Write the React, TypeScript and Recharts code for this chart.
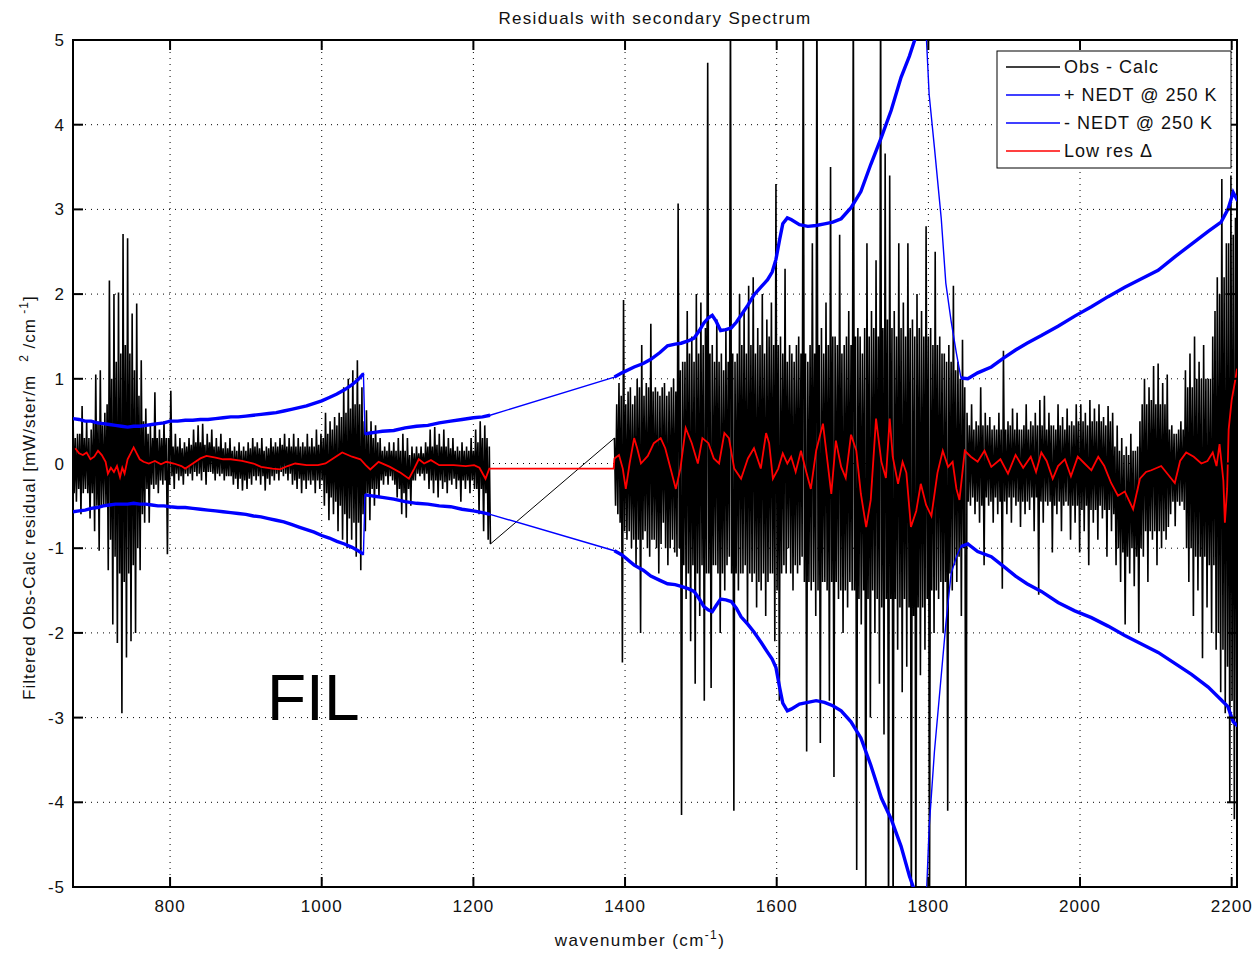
import React from 'react';
import { LineChart, Line, XAxis, YAxis, CartesianGrid, ReferenceArea } from 'recharts';

const W = 1254;
const H = 954;
const PLOT = { left: 73, top: 40, right: 1237, bottom: 887 };
const FONT = '"Liberation Sans", Arial, Helvetica, sans-serif';

const X_DOMAIN: [number, number] = [672, 2207];
const X_TICKS = [800, 1000, 1200, 1400, 1600, 1800, 2000, 2200];
const Y_TICKS = [-5, -4, -3, -2, -1, 0, 1, 2, 3, 4, 5];

// Obs - Calc residual, one value every 1.5 cm-1 (peak / trough pairs)
const OBS_STEP = 1.5;
const OBS_A_START = 672; // 672 .. 1222.5
const OBS_A = [
  0.62, -0.35, 0.3, -0.45, 0.35, -0.3, 0.35, -0.6, 0.68, -0.35, 0.3, -0.3, 0.5, -0.35, 0.3, -0.65, 0.4, -0.35,
  0.5, -0.8, 1.05, -0.5, 0.5, -1.03, 1.1, -0.5, 0.45, -0.5, 0.6, -0.5, 0.7, -1.26, 2.16, -0.9, 1.0, -1.9,
  2.0, -1.1, 1.2, -2.12, 2.02, -1.3, 1.3, -2.95, 2.71, -1.4, 1.4, -2.29, 2.66, -1.3, 1.3, -2.1, 1.77, -1.2,
  1.1, -2.0, 1.89, -1.0, 0.8, -1.26, 1.22, -0.6, 0.5, -0.7,
  0.65, -0.3, 0.35, -0.7, 0.45, -0.25, 0.3, -0.3, 0.84, -0.25, 0.3, -0.35, 0.4, -0.2, 0.3, -0.25, 0.5, -0.2,
  0.3, -1.07, 0.3, -0.25,
  0.86, -0.15, 0.2, -0.3, 0.35, -0.12, 0.2, -0.2, 0.3, -0.15, 0.18, -0.25, 0.25, -0.12, 0.2, -0.15, 0.3, -0.12, 0.22, -0.2,
  0.4, -0.1, 0.25, -0.15, 0.45, -0.12, 0.25, -0.2, 0.47, -0.1, 0.22, -0.25, 0.35, -0.1, 0.25, -0.1, 0.4, -0.12, 0.2, -0.2,
  0.3, -0.12, 0.2, -0.15, 0.35, -0.12, 0.18, -0.2, 0.25, -0.15, 0.18, -0.15, 0.3, -0.15, 0.15, -0.25, 0.2, -0.18, 0.15, -0.3,
  0.25, -0.18, 0.15, -0.32, 0.2, -0.2, 0.15, -0.3, 0.25, -0.18, 0.18, -0.25, 0.3, -0.15, 0.2, -0.2, 0.25, -0.15, 0.18, -0.25,
  0.3, -0.15, 0.15, -0.32, 0.2, -0.18, 0.18, -0.25, 0.3, -0.15, 0.2, -0.2, 0.25, -0.12, 0.2, -0.2, 0.3, -0.1, 0.22, -0.15,
  0.35, -0.12, 0.2, -0.2, 0.3, -0.12, 0.2, -0.25,
  0.35, -0.2, 0.2, -0.3, 0.3, -0.18, 0.2, -0.35, 0.25, -0.2, 0.2, -0.3, 0.35, -0.2, 0.2, -0.25, 0.3, -0.2, 0.2, -0.35,
  0.4, -0.2, 0.22, -0.3, 0.35, -0.2,
  0.3, -0.5, 0.6, -0.35, 0.35, -0.67, 0.5, -0.4, 0.4, -0.6, 0.55, -0.45, 0.45, -0.8,
  0.6, -0.5, 0.55, -0.9, 0.9, -0.6, 0.6, -1.0, 1.0, -0.65, 0.65, -0.9, 1.1, -0.7, 0.7, -1.1, 1.22, -0.7, 0.7, -1.26,
  0.9, -0.6, 0.5, -0.8,
  0.63, -0.35, 0.35, -0.67, 0.5, -0.3, 0.3, -0.5, 0.45, -0.3, 0.25, -0.4, 0.3, -0.2,
  0.15, -0.25, 0.2, -0.15, 0.15, -0.25, 0.25, -0.15, 0.15, -0.2,
  0.25, -0.25, 0.15, -0.4, 0.3, -0.3, 0.15, -0.6, 0.35, -0.35, 0.15, -0.64, 0.3, -0.3, 0.1, -0.5, 0.2, -0.2,
  0.12, -0.2, 0.2, -0.12, 0.12, -0.15, 0.2, -0.12, 0.12, -0.2, 0.25, -0.12,
  0.2, -0.3, 0.4, -0.2, 0.2, -0.35, 0.43, -0.2, 0.22, -0.4, 0.35, -0.2, 0.2, -0.3, 0.4, -0.22, 0.2, -0.35, 0.3, -0.2,
  0.18, -0.25, 0.3, -0.18,
  0.15, -0.3, 0.2, -0.2, 0.15, -0.45, 0.25, -0.2, 0.15, -0.3, 0.2, -0.2, 0.15, -0.35, 0.3, -0.2, 0.15, -0.3,
  0.4, -0.3, 0.25, -0.6, 0.5, -0.3, 0.3, -0.8, 0.45, -0.35, 0.3, -0.9, 0.2, -0.95,
];
const OBS_B_START = 1386; // 1386 .. 2209.5
const OBS_B = [
  0.3, -0.5, 0.7, -0.6, 0.95, -0.7, 0.8, -2.35, 1.93, -0.8, 0.7, -0.9,
  0.85, -0.8, 0.9, -1.0, 0.7, -0.9,
  0.8, -1.2, 1.0, -0.9, 0.9, -2.0, 1.4, -0.9, 0.8, -0.8, 0.95, -1.0, 0.9, -1.1, 1.65, -0.9, 0.85, -0.9,
  0.9, -1.0, 0.85, -1.3, 0.8, -0.95, 0.9, -0.7, 0.95, -1.0, 0.8, -1.2, 0.85, -1.0, 0.9, -0.9, 1.0, -1.05, 0.85, -1.1,
  3.07, -1.0, 1.1, -4.15, 1.2, -1.2,
  1.2, -1.6, 1.8, -1.3, 1.3, -2.1, 1.5, -1.2, 1.2, -2.6, 2.0, -1.3, 1.3, -1.8, 1.9, -1.2, 1.4, -2.8, 1.6, -1.3,
  4.73, -1.3, 1.3, -2.65, 1.4, -1.2, 1.2, -1.2, 1.7, -1.3, 1.2, -2.0, 1.3, -1.3, 1.1, -1.5, 1.6, -1.2, 1.2, -1.1,
  5.6, -1.3, 1.3, -4.1, 1.2, -1.3,
  1.3, -1.5, 2.0, -1.3, 1.4, -1.3, 1.8, -1.2, 1.3, -1.9, 2.1, -1.3, 1.4, -1.4, 2.2, -1.3, 1.3, -1.7,
  1.6, -1.4, 1.4, -1.5, 2.0, -1.3, 1.3, -1.8, 1.7, -1.4, 1.5, -1.3, 1.9, -1.3, 1.4, -2.1, 3.3, -1.5,
  1.4, -2.8, 1.5, -1.3, 1.3, -1.2, 2.3, -1.3, 1.2, -1.0, 1.4, -1.3, 1.3, -1.5, 1.2, -1.2, 1.4, -1.3, 1.5, -1.2, 1.3, -1.1,
  5.8, -1.4, 1.3, -3.4, 1.2, -1.4, 1.4, -1.5, 2.6, -1.4, 1.3, -1.8, 5.8, -1.5, 1.4, -3.3, 1.6, -1.4, 1.3, -1.4, 1.9, -1.5,
  1.4, -2.8, 3.5, -1.4, 1.5, -3.7, 1.5, -1.4, 1.4, -1.6, 2.7, -1.5, 1.3, -2.0, 1.4, -1.5, 1.5, -1.7, 1.8, -1.4, 1.4, -1.5,
  5.8, -1.5, 1.5, -4.8, 1.6, -1.6, 1.5, -1.9, 1.3, -1.5, 1.6, -5.6, 2.6, -1.6, 1.5, -3.0, 1.8, -1.5, 1.6, -2.0,
  2.4, -1.6, 1.5, -2.6, 5.8, -1.7, 1.6, -3.2, 3.66, -1.6, 1.7, -5.6, 3.4, -1.6,
  1.6, -5.6, 1.8, -1.6, 1.5, -2.2, 2.6, -1.7, 1.6, -2.7, 1.9, -1.6, 1.5, -2.4, 2.6, -1.7, 1.6, -5.6, 1.7, -1.8,
  1.5, -5.6, 2.0, -1.7, 1.6, -2.5, 1.8, -1.7, 1.5, -2.2, 2.8, -1.6, 1.5, -5.6,
  1.6, -1.5, 1.4, -2.0, 2.5, -1.5, 1.4, -1.6, 1.5, -1.4, 1.3, -2.0, 1.3, -1.4, 1.2, -4.1, 1.4, -1.3, 1.2, -1.5,
  2.1, -1.2, 1.1, -1.4, 1.2, -1.1, 1.0, -1.8, 1.46, -1.0, 0.9, -5.6,
  0.6, -0.45, 0.45, -0.5, 0.7, -0.4, 0.4, -0.6, 0.5, -0.45, 0.45, -0.7, 0.9, -0.5, 0.45, -1.2, 0.6, -0.4, 0.45, -0.5,
  0.55, -0.45, 0.4, -0.7, 0.45, -0.4, 0.4, -0.6, 0.6, -0.45, 0.4, -1.48, 1.33, -0.45, 0.4, -0.6, 0.5, -0.4, 0.45, -0.7,
  0.65, -0.4, 0.4, -0.5, 0.6, -0.45, 0.4, -0.75, 0.4, -0.45, 0.45, -0.6, 0.7, -0.45, 0.4, -0.55, 0.5, -0.4, 0.45, -0.8,
  0.6, -0.4, 0.45, -1.55, 0.75, -0.45,
  0.45, -0.7, 0.8, -0.45, 0.4, -0.5, 0.6, -0.45, 0.45, -1.05, 0.45, -0.5, 0.4, -0.6, 0.7, -0.45, 0.45, -0.8, 0.55, -0.5,
  0.4, -0.45, 0.65, -0.5, 0.45, -0.9, 0.5, -0.5, 0.45, -0.7,
  0.7, -0.5, 0.5, -1.05, 0.7, -0.55, 0.5, -0.8, 0.6, -0.5, 0.45, -1.2, 0.75, -0.55, 0.5, -0.7, 0.65, -0.55, 0.5, -0.9,
  0.7, -0.5, 0.5, -0.65, 0.55, -0.55, 0.45, -1.1, 0.68, -0.55, 0.5, -0.8, 0.6, -0.6,
  0.2, -1.2, 0.45, -1.0, 0.15, -1.4, 0.3, -1.05, 0.1, -1.9, 0.2, -1.1, 0.1, -1.3, 0.35, -1.0, 0.15, -1.45, 0.15, -1.1,
  0.2, -2.0, 0.5, -1.0,
  0.7, -1.1, 1.0, -0.8, 0.7, -1.4, 0.9, -0.8, 0.75, -0.9, 1.15, -0.8, 0.7, -1.2, 1.18, -0.8, 0.7, -1.0, 0.95, -0.8,
  0.7, -0.9, 1.05, -0.75,
  0.4, -0.6, 0.45, -0.45, 0.35, -0.74, 0.35, -0.45, 0.4, -0.5, 0.5, -0.45, 0.4, -0.55,
  1.1, -1.0, 0.9, -1.4, 1.3, -1.0, 0.9, -1.8, 1.5, -1.1, 1.0, -1.5, 1.2, -1.1, 1.0, -2.3, 1.4, -1.1, 1.0, -1.7,
  1.0, -1.2, 1.0, -2.0, 1.5, -1.2,
  1.8, -2.2, 2.2, -2.0, 2.0, -2.7, 3.36, -2.2, 2.2, -2.95, 2.6, -2.4,
  2.6, -4.0, 3.4, -2.8, 2.7, -4.2, 2.9, -3.0, 3.0, -3.9,
];

// [wavenumber, +NEDT, -NEDT]
const NEDT: [number, number, number][] = [
  [672, 0.53, -0.57], [680, 0.52, -0.56], [688, 0.5, -0.55], [696, 0.5, -0.53], [704, 0.48, -0.52],
  [712, 0.47, -0.5], [720, 0.46, -0.49], [728, 0.45, -0.48], [736, 0.44, -0.48], [744, 0.43, -0.48],
  [752, 0.44, -0.47], [760, 0.44, -0.48], [768, 0.45, -0.48], [776, 0.46, -0.49], [784, 0.47, -0.5],
  [792, 0.48, -0.5], [800, 0.5, -0.51], [810, 0.5, -0.52], [820, 0.51, -0.52], [830, 0.51, -0.53],
  [840, 0.52, -0.54], [850, 0.52, -0.55], [860, 0.53, -0.56], [870, 0.54, -0.57], [880, 0.55, -0.58],
  [890, 0.55, -0.59], [900, 0.56, -0.6], [910, 0.57, -0.62], [920, 0.58, -0.63], [930, 0.59, -0.65],
  [940, 0.6, -0.67], [950, 0.62, -0.69], [960, 0.64, -0.72], [970, 0.66, -0.75], [980, 0.68, -0.78],
  [990, 0.71, -0.81], [1000, 0.74, -0.85], [1010, 0.78, -0.88], [1020, 0.82, -0.92], [1030, 0.87, -0.95],
  [1040, 0.93, -0.99], [1048, 0.99, -1.03], [1055, 1.06, -1.07], [1057, 0.35, -0.37], [1064, 0.36, -0.38],
  [1072, 0.37, -0.39], [1080, 0.38, -0.4], [1095, 0.39, -0.42], [1110, 0.42, -0.45], [1125, 0.44, -0.47],
  [1140, 0.45, -0.48], [1155, 0.48, -0.5], [1170, 0.5, -0.51], [1185, 0.52, -0.54], [1200, 0.54, -0.56],
  [1212, 0.55, -0.58], [1222, 0.57, -0.6], [1386, 1.02, -1.03], [1396, 1.07, -1.08], [1412, 1.14, -1.2],
  [1424, 1.18, -1.26], [1434, 1.23, -1.33], [1446, 1.31, -1.38], [1456, 1.39, -1.42], [1466, 1.41, -1.43],
  [1474, 1.42, -1.45], [1484, 1.45, -1.48], [1491, 1.48, -1.51], [1498, 1.57, -1.6], [1504, 1.66, -1.69],
  [1510, 1.72, -1.73], [1515, 1.75, -1.75], [1520, 1.68, -1.68], [1526, 1.57, -1.6], [1533, 1.58, -1.61],
  [1540, 1.6, -1.63], [1547, 1.67, -1.71], [1553, 1.75, -1.81], [1562, 1.87, -1.9], [1570, 1.99, -1.99],
  [1580, 2.09, -2.12], [1588, 2.17, -2.23], [1594, 2.26, -2.31], [1599, 2.41, -2.41], [1604, 2.65, -2.65],
  [1608, 2.83, -2.83], [1614, 2.9, -2.92], [1619, 2.88, -2.9], [1630, 2.82, -2.84], [1641, 2.8, -2.82],
  [1652, 2.81, -2.8], [1663, 2.83, -2.82], [1674, 2.85, -2.86], [1685, 2.89, -2.92], [1698, 3.02, -3.05],
  [1711, 3.21, -3.24], [1724, 3.53, -3.56], [1738, 3.85, -3.95], [1751, 4.17, -4.2], [1764, 4.56, -4.52],
  [1775, 4.81, -4.87], [1782, 5.0, -5.05], [1790, 5.2, -5.25], [1797, 5.1, -5.2], [1801, 4.36, -4.3],
  [1808, 3.73, -3.4], [1817, 2.89, -2.5], [1823, 2.13, -1.9], [1830, 1.68, -1.3], [1837, 1.3, -1.1],
  [1843, 1.01, -0.98], [1852, 1.0, -0.95], [1865, 1.07, -1.04], [1883, 1.14, -1.1], [1900, 1.25, -1.22],
  [1915, 1.34, -1.33], [1930, 1.42, -1.42], [1949, 1.51, -1.51], [1971, 1.62, -1.64], [1993, 1.74, -1.74],
  [2015, 1.85, -1.82], [2037, 1.97, -1.92], [2059, 2.08, -2.03], [2081, 2.18, -2.13], [2103, 2.28, -2.23],
  [2125, 2.44, -2.36], [2147, 2.59, -2.49], [2169, 2.74, -2.64], [2186, 2.85, -2.79], [2195, 3.0, -2.87],
  [2202, 3.2, -3.05], [2208, 3.1, -3.1],
];
// stretches where the NEDT curve is only a thin connecting stroke (no noise band)
const NEDT_THIN: [number, number][] = [[1055, 1057], [1222, 1386], [1797, 1843]];

// [wavenumber, low res delta]
const LOWRES: [number, number][] = [
  [675, 0.18], [680, 0.12], [685, 0.1], [690, 0.13], [695, 0.05], [700, 0.08], [705, 0.15], [710, 0.1],
  [715, 0.02], [718, -0.12], [722, -0.05], [726, -0.1], [730, -0.03], [734, -0.16], [737, -0.05], [740, -0.12],
  [744, 0.05], [748, 0.12], [752, 0.19], [756, 0.12], [760, 0.05], [765, 0.02], [772, 0.0], [780, 0.03],
  [788, -0.01], [795, 0.02], [805, 0.0], [815, -0.03], [820, -0.06], [830, 0.0], [840, 0.06], [848, 0.09],
  [860, 0.07], [870, 0.05], [880, 0.05], [895, 0.03], [910, 0.0], [920, -0.04], [935, -0.06], [945, -0.07],
  [955, -0.03], [965, 0.0], [980, -0.02], [995, -0.02], [1005, 0.0], [1015, 0.06], [1027, 0.13], [1040, 0.08],
  [1051, 0.05], [1058, -0.02], [1064, -0.07], [1075, 0.02], [1090, -0.04], [1104, -0.11], [1115, -0.18], [1122, -0.06],
  [1128, 0.05], [1135, 0.0], [1144, 0.04], [1155, -0.02], [1174, -0.02], [1190, -0.03], [1201, -0.02], [1208, -0.05],
  [1216, -0.18], [1221, -0.06], [1385, -0.06], [1386, 0.06], [1392, 0.1], [1397, -0.06], [1401, -0.3], [1406, 0.0],
  [1412, 0.3], [1416, 0.18], [1421, 0.0], [1430, 0.09], [1438, 0.24], [1447, 0.3], [1453, 0.18], [1460, -0.06],
  [1467, -0.3], [1473, -0.06], [1480, 0.42], [1488, 0.24], [1496, 0.0], [1502, 0.3], [1510, 0.24], [1517, 0.06],
  [1524, 0.0], [1531, 0.36], [1537, 0.3], [1544, -0.06], [1553, -0.18], [1562, 0.06], [1570, 0.18], [1579, -0.06],
  [1586, 0.36], [1590, 0.24], [1595, -0.18], [1602, -0.06], [1608, 0.12], [1614, 0.0], [1619, 0.08], [1625, -0.1],
  [1632, 0.15], [1639, -0.1], [1645, -0.3], [1652, 0.15], [1661, 0.47], [1667, 0.02], [1672, -0.36], [1678, 0.27],
  [1685, -0.04], [1691, -0.17], [1698, 0.34], [1705, 0.15], [1711, -0.36], [1718, -0.75], [1724, -0.43], [1731, 0.53],
  [1738, 0.02], [1744, -0.17], [1749, 0.53], [1753, 0.08], [1760, -0.24], [1766, 0.02], [1771, -0.11], [1777, -0.75],
  [1784, -0.56], [1790, -0.24], [1797, -0.49], [1804, -0.62], [1812, -0.11], [1819, 0.15], [1826, -0.04], [1832, 0.02],
  [1837, -0.3], [1841, -0.43], [1848, 0.15], [1856, 0.08], [1865, 0.02], [1874, 0.15], [1883, -0.04], [1895, 0.05],
  [1905, -0.12], [1915, 0.1], [1925, -0.05], [1935, 0.08], [1942, -0.1], [1949, 0.13], [1956, 0.03], [1964, -0.18],
  [1971, -0.03], [1980, 0.05], [1988, -0.15], [1997, 0.08], [2006, 0.0], [2015, -0.08], [2024, 0.08], [2032, -0.03],
  [2041, -0.23], [2050, -0.38], [2059, -0.33], [2070, -0.54], [2079, -0.18], [2087, -0.1], [2094, -0.08], [2107, -0.03],
  [2116, -0.13], [2125, -0.23], [2132, 0.03], [2140, 0.13], [2150, 0.08], [2160, 0.0], [2168, 0.03], [2175, 0.13],
  [2180, -0.03], [2184, 0.23], [2189, -0.2], [2191, -0.7], [2194, -0.3], [2196, 0.4], [2200, 0.75], [2205, 1.0],
  [2207, 1.12],
];

const LEGEND = [
  { label: 'Obs - Calc', color: '#000000' },
  { label: '+ NEDT @ 250 K', color: '#0000ff' },
  { label: '- NEDT @ 250 K', color: '#0000ff' },
  { label: 'Low res \u0394', color: '#ff0000' },
];

const obsA = OBS_A.map((v, i) => ({ wn: OBS_A_START + i * OBS_STEP, v }));
const obsB = OBS_B.map((v, i) => ({ wn: OBS_B_START + i * OBS_STEP, v }));
const obsLink = [obsA[obsA.length - 1], obsB[0]];

const nedtThin = NEDT.map(([wn, p, m]) => ({ wn, p, m }));
const nedtBand: { wn: number; p: number | null; m: number | null }[] = [];
NEDT.forEach(([wn, p, m]) => {
  if (NEDT_THIN.some(([a, b]) => wn > a && wn < b)) return;
  nedtBand.push({ wn, p, m });
  if (NEDT_THIN.some(([a]) => wn === a)) nedtBand.push({ wn: wn + 0.5, p: null, m: null });
});
const lowresData = LOWRES.map(([wn, v]) => ({ wn, v }));

const YTick = (props: any) => {
  const { y, payload } = props;
  return (
    <g>
      <line x1={PLOT.left} x2={PLOT.left + 10} y1={y} y2={y} stroke="#000" strokeWidth={2} />
      <line x1={PLOT.right - 10} x2={PLOT.right} y1={y} y2={y} stroke="#000" strokeWidth={2} />
      <text x={PLOT.left - 8} y={y} dy={6} textAnchor="end" fontSize={17} letterSpacing={1}
        fill="#111" fontFamily={FONT}>{payload.value}</text>
    </g>
  );
};

const XTick = (props: any) => {
  const { x, payload } = props;
  return (
    <g>
      <line x1={x} x2={x} y1={PLOT.bottom} y2={PLOT.bottom - 10} stroke="#000" strokeWidth={2} />
      <line x1={x} x2={x} y1={PLOT.top} y2={PLOT.top + 10} stroke="#000" strokeWidth={2} />
      <text x={x} y={PLOT.bottom + 25} textAnchor="middle" fontSize={17} letterSpacing={1}
        fill="#111" fontFamily={FONT}>{payload.value}</text>
    </g>
  );
};

export default function App() {
  return (
    <div style={{ position: 'absolute', left: 0, top: 0, width: W, height: H, background: '#fff' }}>
      <LineChart width={W} height={H} margin={{ top: PLOT.top, right: W - PLOT.right, left: 0, bottom: 7 }}>
        <CartesianGrid stroke="#000" strokeDasharray="1 5" strokeWidth={1} />
        <XAxis dataKey="wn" type="number" domain={X_DOMAIN} ticks={X_TICKS} interval={0}
          allowDataOverflow height={60} axisLine={false} tickLine={false} tick={XTick} />
        <YAxis type="number" domain={[-5, 5]} ticks={Y_TICKS} interval={0} allowDataOverflow
          width={PLOT.left} axisLine={false} tickLine={false} tick={YTick} />
        <Line data={obsA} dataKey="v" name="Obs - Calc" stroke="#000" strokeWidth={1.6}
          dot={false} isAnimationActive={false} />
        <Line data={obsLink} dataKey="v" name="Obs - Calc link" stroke="#000" strokeWidth={1}
          dot={false} isAnimationActive={false} />
        <Line data={obsB} dataKey="v" name="Obs - Calc (2)" stroke="#000" strokeWidth={1.6}
          dot={false} isAnimationActive={false} />
        <Line data={nedtThin} dataKey="p" name="+ NEDT @ 250 K" stroke="#0000ff" strokeWidth={1.4}
          dot={false} isAnimationActive={false} />
        <Line data={nedtBand} dataKey="p" name="+ NEDT band" stroke="#0000ff" strokeWidth={3.4}
          dot={false} isAnimationActive={false} connectNulls={false} />
        <Line data={nedtThin} dataKey="m" name="- NEDT @ 250 K" stroke="#0000ff" strokeWidth={1.4}
          dot={false} isAnimationActive={false} />
        <Line data={nedtBand} dataKey="m" name="- NEDT band" stroke="#0000ff" strokeWidth={3.4}
          dot={false} isAnimationActive={false} connectNulls={false} />
        <Line data={lowresData} dataKey="v" name="Low res" stroke="#ff0000" strokeWidth={1.8}
          dot={false} isAnimationActive={false} />
        <ReferenceArea x1={X_DOMAIN[0]} x2={X_DOMAIN[1]} y1={-5} y2={5} fill="none" fillOpacity={0}
          stroke="#000" strokeWidth={2} ifOverflow="visible" />
      </LineChart>

      <svg width={W} height={H} style={{ position: 'absolute', left: 0, top: 0, pointerEvents: 'none' }}
        fontFamily={FONT}>
        <text x={655} y={24} textAnchor="middle" fontSize={17} letterSpacing={1.3} fill="#111">
          Residuals with secondary Spectrum
        </text>
        <text x={640} y={946} textAnchor="middle" fontSize={17} letterSpacing={1.4} fill="#111">
          wavenumber (cm<tspan dy={-7} fontSize={12}>-1</tspan><tspan dy={7}>)</tspan>
        </text>
        <text transform="translate(35,700) rotate(-90)" fontSize={17} letterSpacing={1} fill="#111"
          style={{ whiteSpace: 'pre' }}>
          Filtered Obs-Calc residual [mW/ster/m<tspan dy={-7} fontSize={12}>{'   2'}</tspan>
          <tspan dy={7}>{' /cm'}</tspan><tspan dy={-7} fontSize={12}>{' -1'}</tspan><tspan dy={7}>]</tspan>
        </text>
        <text x={267} y={720} fontSize={64} fill="#000">FIL</text>

        <rect x={997} y={51} width={234} height={117} fill="#fff" stroke="#000" strokeWidth={1} />
        {LEGEND.map((item, i) => (
          <g key={item.label}>
            <line x1={1006} x2={1060} y1={67 + i * 28} y2={67 + i * 28} stroke={item.color} strokeWidth={1.3} />
            <text x={1064} y={73 + i * 28} fontSize={18} letterSpacing={1} fill="#111">{item.label}</text>
          </g>
        ))}
      </svg>
    </div>
  );
}
